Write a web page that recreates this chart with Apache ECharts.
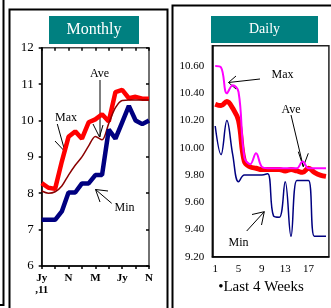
<!DOCTYPE html>
<html>
<head>
<meta charset="utf-8">
<script src="https://cdn.jsdelivr.net/npm/echarts@6/dist/echarts.min.js"></script>
<style>
  html, body { margin: 0; padding: 0; background: #fff; }
  #chart { width: 331px; height: 308px; }
</style>
</head>
<body>
<div id="chart"></div>
<script>
// monthly panel, Jul 2011 .. Nov 2012
var months = ['Jy\n,11', 'A', 'S', 'O', 'N', 'D', 'J', 'F', 'M', 'A', 'My', 'Jn', 'Jy', 'A', 'S', 'O', 'N'];
var monthMax = [8.28, 8.15, 8.12, 8.87, 9.55, 9.7, 9.5, 9.95, 10.03, 10.17, 9.97, 10.78, 10.84, 10.61, 10.65, 10.6, 10.6];
var monthAve = [8.06, 8.0, 8.04, 8.2, 8.5, 8.77, 9.0, 9.3, 9.56, 9.47, 9.92, 10.35, 10.55, 10.56, 10.56, 10.56, 10.56];
var monthMin = [7.27, 7.27, 7.27, 7.5, 8.02, 8.02, 8.27, 8.27, 8.5, 8.5, 9.75, 9.5, 9.95, 10.4, 10.0, 9.9, 10.0];

// daily panel, last 4 weeks
var days = ['1', '2', '3', '4', '5', '6', '7', '8', '9', '10', '11', '12', '13', '14', '15', '16', '17', '18', '19', '20'];
var dayMax = [10.6, 10.59, 10.4, 10.46, 10.41, 9.93, 9.88, 9.96, 9.86, 9.85, 9.85, 9.85, 9.85, 9.85, 9.85, 9.9, 9.85, 9.85, 9.85, 9.85];
var dayAve = [10.32, 10.31, 10.34, 10.29, 10.2, 9.9, 9.86, 9.85, 9.84, 9.84, 9.84, 9.84, 9.83, 9.84, 9.83, 9.82, 9.85, 9.82, 9.8, 9.79];
var dayMin = [10.16, 9.95, 10.2, 9.95, 9.75, 9.8, 9.8, 9.8, 9.8, 9.81, 9.5, 9.49, 9.75, 9.35, 9.76, 9.76, 9.76, 9.35, 9.35, 9.35];

var serif = 'Liberation Serif';

function txt(s, x, y, size) {
    return { type: 'text', x: x, y: y, style: { text: s, fill: '#000', font: (size || 12) + 'px "' + serif + '"', align: 'center', verticalAlign: 'middle' } };
}
function ln(pts, w) {
    return { type: 'polyline', shape: { points: pts }, style: { stroke: '#000', lineWidth: w || 1, fill: null } };
}

var chart = echarts.init(document.getElementById('chart'));
chart.setOption({
    animation: false,
    backgroundColor: '#fff',
    grid: [
        { left: 41.7, top: 47.7, width: 107.3, height: 218.3, show: true, borderColor: '#444', borderWidth: 1.5 },
        { left: 212.3, top: 45.7, width: 116.6, height: 211, show: true, borderColor: '#222', borderWidth: 1.5 }
    ],
    xAxis: [
        {
            type: 'category', gridIndex: 0, data: months, boundaryGap: false,
            axisLine: { lineStyle: { color: '#000', width: 1.5 } },
            axisTick: { interval: 1, length: 3, lineStyle: { color: '#000', width: 1.5 } },
            axisLabel: { interval: 3, color: '#000', fontFamily: serif, fontSize: 11, fontWeight: 'bold', lineHeight: 12, margin: 6 }
        },
        {
            type: 'category', gridIndex: 1, data: days, boundaryGap: true,
            axisLine: { lineStyle: { color: '#000', width: 1.5 } },
            axisTick: { interval: 0, inside: true, length: 3, lineStyle: { color: '#000' } },
            axisLabel: { interval: 3, color: '#000', fontFamily: serif, fontSize: 11, margin: 7 }
        },
        {
            type: 'category', gridIndex: 0, data: months, boundaryGap: false,
            axisLine: { show: false },
            axisTick: { interval: 1, inside: true, length: 3, lineStyle: { color: '#000', width: 1.5 } },
            axisLabel: { show: false }
        }
    ],
    yAxis: [
        {
            type: 'value', gridIndex: 0, min: 6, max: 12, interval: 1,
            splitLine: { show: false },
            axisLine: { show: true, lineStyle: { color: '#000', width: 1.5 } },
            axisTick: { show: true, length: 3, lineStyle: { color: '#000', width: 1.5 } },
            axisLabel: { color: '#000', fontFamily: serif, fontSize: 13, margin: 8 }
        },
        {
            type: 'value', gridIndex: 1, min: 9.2, max: 10.75, interval: 0.2,
            splitLine: { show: false },
            axisLine: { show: true, lineStyle: { color: '#000', width: 1.5 } },
            axisTick: { show: false },
            axisLabel: {
                color: '#000', fontFamily: serif, fontSize: 11, margin: 8, showMaxLabel: false,
                formatter: function (v) { return v.toFixed(2); }
            }
        },
        {
            type: 'value', gridIndex: 0, min: 6, max: 12, interval: 1,
            splitLine: { show: false },
            axisLine: { show: false },
            axisTick: { show: true, inside: true, length: 3, lineStyle: { color: '#000', width: 1.5 } },
            axisLabel: { show: false }
        }
    ],
    series: [
        { name: 'Max', type: 'line', xAxisIndex: 0, yAxisIndex: 0, data: monthMax, showSymbol: false, lineStyle: { color: '#ff0000', width: 4.5 } },
        { name: 'Ave', type: 'line', xAxisIndex: 0, yAxisIndex: 0, data: monthAve, showSymbol: false, smooth: 0.3, lineStyle: { color: '#8b0000', width: 1.5 } },
        { name: 'Min', type: 'line', xAxisIndex: 0, yAxisIndex: 0, data: monthMin, showSymbol: false, lineStyle: { color: '#000080', width: 4.5 } },

        { name: 'Ave', type: 'line', xAxisIndex: 1, yAxisIndex: 1, data: dayAve, showSymbol: false, smooth: 0.4, lineStyle: { color: '#ff0000', width: 5 } },
        { name: 'Max', type: 'line', xAxisIndex: 1, yAxisIndex: 1, data: dayMax, showSymbol: false, smooth: 0.4, lineStyle: { color: '#ff00ff', width: 2 } },
        { name: 'Min', type: 'line', xAxisIndex: 1, yAxisIndex: 1, data: dayMin, showSymbol: false, smooth: 0.4, lineStyle: { color: '#000080', width: 1.5 } }
    ],
    graphic: [
        // panel frames
        ln([[3.5, 0], [3.5, 305], [0, 305]], 2),
        ln([[9.5, 308], [9.5, 9.5], [167.5, 9.5], [167.5, 308]], 2),
        ln([[172.5, 308], [172.5, 5.5], [331, 5.5]], 2),

        // titles
        { type: 'rect', shape: { x: 49, y: 16, width: 90, height: 28 }, style: { fill: '#008080' } },
        { type: 'text', x: 94, y: 30, style: { text: 'Monthly', fill: '#fff', font: '16px "' + serif + '"', align: 'center', verticalAlign: 'middle' } },
        { type: 'rect', shape: { x: 211, y: 16, width: 107, height: 27 }, style: { fill: '#008080' } },
        { type: 'text', x: 264.5, y: 29.5, style: { text: 'Daily', fill: '#fff', font: '14px "' + serif + '"', align: 'center', verticalAlign: 'middle' } },

        // monthly callouts
        txt('Ave', 99.5, 74),
        ln([[100, 80], [100, 137]]),
        ln([[93, 124], [99.5, 137], [103, 125]]),
        txt('Max', 66, 118),
        ln([[57.3, 124], [65, 151.7]]),
        ln([[55, 141], [65, 151.7], [68, 140]]),
        txt('Min', 124.5, 208),
        ln([[111.7, 203.3], [95.5, 189.5]]),
        ln([[108, 191], [95.5, 189.5], [100, 202]]),

        // daily callouts
        txt('Max', 282.5, 75),
        ln([[260, 79], [228.5, 82.5]]),
        ln([[236, 76], [228.5, 82.5], [236, 89]]),
        txt('Ave', 291, 110),
        ln([[291, 115], [303.3, 166.7]]),
        ln([[298.3, 151.7], [303.3, 166.7], [308.3, 153.3]]),
        txt('Min', 238.5, 243),
        ln([[246.7, 231], [264.3, 211.7]]),
        ln([[252, 214.5], [264.3, 211.7], [261.5, 225]]),

        txt('\u2022Last 4 Weeks', 261, 287, 15)
    ]
});
</script>
</body>
</html>
